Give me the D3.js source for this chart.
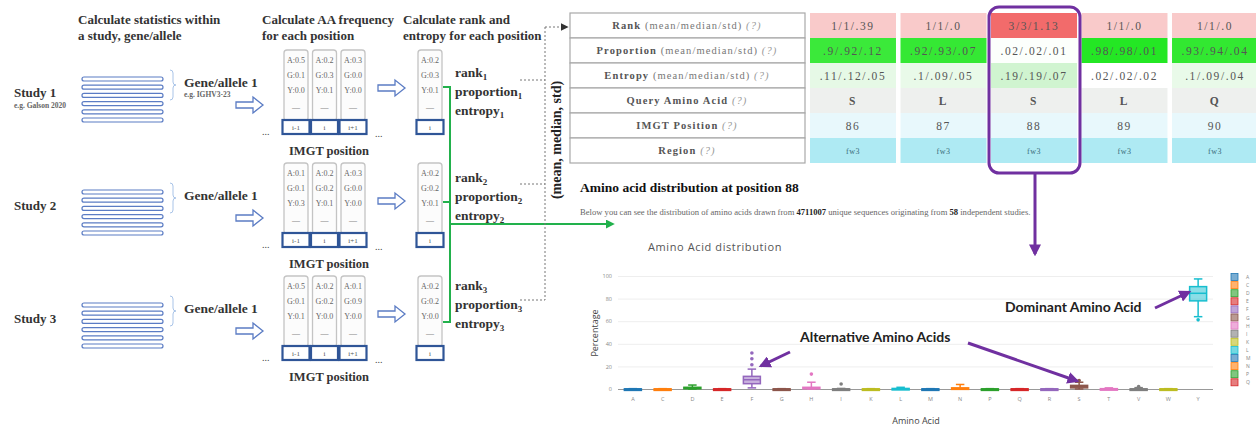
<!DOCTYPE html>
<html>
<head>
<meta charset="utf-8">
<script src="https://cdn.jsdelivr.net/npm/d3@7"></script>
<style>
  body { margin: 0; background: #fff; }
  svg { display: block; }
</style>
</head>
<body>
<svg></svg>
<script>
// ---------- data ----------
const studies = ["Study 1", "Study 2", "Study 3"];
const studyNotes = ["e.g. Galson 2020", "", ""];
const geneLabels = ["Gene/allele 1", "Gene/allele 1", "Gene/allele 1"];
const geneNotes = ["e.g. IGHV3-23", "", ""];
const positions = ["i-1", "i", "i+1"];
const residues = ["A", "G", "Y"];
// frequency[position][residue] for each study
const freqStudy1 = [[0.5, 0.1, 0.0], [0.2, 0.3, 0.1], [0.3, 0.0, 0.0]];
const freqStudy2 = [[0.1, 0.1, 0.3], [0.2, 0.2, 0.1], [0.3, 0.0, 0.0]];
const freqStudy3 = [[0.5, 0.1, 0.1], [0.2, 0.2, 0.0], [0.1, 0.9, 0.0]];
const studyFreqs = [freqStudy1, freqStudy2, freqStudy3];

// summary table
const rowNames = ["Rank", "Proportion", "Entropy", "Query Amino Acid", "IMGT Position", "Region"];
const rowNotes = ["(mean/median/std)", "(mean/median/std)", "(mean/median/std)", "", "", ""];
const imgtPositions = [86, 87, 88, 89, 90];
const rankStats = ["1/1/.39", "1/1/.0", "3/3/1.13", "1/1/.0", "1/1/.0"];
const rankMeans = [1, 1, 3, 1, 1];
const proportionStats = [".9/.92/.12", ".92/.93/.07", ".02/.02/.01", ".98/.98/.01", ".93/.94/.04"];
const proportionMeans = [0.9, 0.92, 0.02, 0.98, 0.93];
const entropyStats = [".11/.12/.05", ".1/.09/.05", ".19/.19/.07", ".02/.02/.02", ".1/.09/.04"];
const entropyMeans = [0.11, 0.1, 0.19, 0.02, 0.1];
const queryAA = ["S", "L", "S", "L", "Q"];
const regions = ["fw3", "fw3", "fw3", "fw3", "fw3"];
const selectedPosition = 88;
const nSequences = "4711007";
const nStudies = "58";

// box plot (percentage)
const aminoAcids = ["A", "C", "D", "E", "F", "G", "H", "I", "K", "L", "M", "N", "P", "Q", "R", "S", "T", "V", "W", "Y"];
const boxQ1     = [0, 0, 0.3, 0, 4.7, 0, 0.3, 0, 0, 0, 0, 0, 0, 0, 0, 1, 0, 0, 0, 78];
const boxMedian = [0, 0, 0.8, 0, 8.2, 0, 0.8, 0, 0, 0.2, 0, 0.4, 0, 0, 0, 2, 0, 0, 0, 84.7];
const boxQ3     = [0.1, 0.1, 1.5, 0.1, 11.2, 0.1, 1.5, 0.1, 0.1, 0.5, 0.1, 1, 0.1, 0.1, 0.1, 3.2, 0.3, 0.1, 0.1, 90.6];
const boxLow    = [0, 0, 0, 0, 1, 0, 0, 0, 0, 0, 0, 0, 0, 0, 0, 0, 0, 0, 0, 64];
const boxHigh   = [0.3, 0.3, 3.5, 0.3, 17.6, 0.3, 6, 0.5, 0.3, 1.5, 0.3, 4, 0.3, 0.3, 0.3, 6, 1, 1.2, 0.3, 97.4];
const boxOutliers = [[], [], [], [], [21.5, 26.8, 31.8], [], [13.2], [4.4], [], [], [], [], [], [], [], [7.5], [], [2.2], [], [61.2]];
const yTicks = [0, 20, 40, 60, 80, 100];
const legendCount = 14;

// ---------- setup ----------
const width = 1256, height = 427;
const svg = d3.select("svg").attr("width", width).attr("height", height);
const serif = "'Liberation Serif', 'Times New Roman', serif";
const sans = "'Open Sans', 'Liberation Sans', sans-serif";
const blue = "#5b7cc4";
const darkBlue = "#2f5597";
const purple = "#7030a0";

const defs = svg.append("defs");
function marker(id, color, size) {
  defs.append("marker").attr("id", id)
    .attr("viewBox", "0 0 10 10").attr("refX", 8).attr("refY", 5)
    .attr("markerWidth", size).attr("markerHeight", size)
    .attr("markerUnits", "userSpaceOnUse").attr("orient", "auto")
    .append("path").attr("d", "M0,0 L10,5 L0,10 z").attr("fill", color);
}
marker("arrGreen", "#22b14c", 9);
marker("arrGray", "#333", 8);
marker("arrPurple", purple, 12);

function hollowArrow(x, y) {
  svg.append("path")
    .attr("d", `M${x},${y - 3} h17 v-5 l10,8 l-10,8 v-5 h-17 z`)
    .attr("fill", "#fff").attr("stroke", blue).attr("stroke-width", 1.3);
}

// ---------- headings ----------
const heads = [
  [78, ["Calculate statistics within", "a study, gene/allele"]],
  [262, ["Calculate AA frequency", "for each position"]],
  [403, ["Calculate rank and", "entropy for each position"]]
];
heads.forEach(([x, lines]) => {
  lines.forEach((l, i) => {
    svg.append("text").attr("x", x).attr("y", 24 + i * 16)
      .attr("font-family", serif).attr("font-weight", "bold").attr("font-size", 13)
      .attr("fill", "#333").text(l);
  });
});

// ---------- study blocks ----------
const colX = d3.scalePoint().domain(positions).range([296, 353]);
const fmt = d3.format(".1f");
const labelCenters = [72, 177, 285];

studies.forEach((s, k) => {
  const top = 50 + k * 113;
  svg.append("text").attr("x", 14).attr("y", top + 47)
    .attr("font-family", serif).attr("font-weight", "bold").attr("font-size", 13)
    .attr("fill", "#333").text(s);
  if (studyNotes[k]) {
    svg.append("text").attr("x", 14).attr("y", top + 58)
      .attr("font-family", serif).attr("font-weight", "bold").attr("font-size", 7.5)
      .attr("fill", "#666").text(studyNotes[k]);
  }
  d3.range(6).forEach(i => {
    svg.append("rect").attr("x", 82).attr("y", top + 27 + i * 8.2)
      .attr("width", 81).attr("height", 4).attr("rx", 2)
      .attr("fill", "#fff").attr("stroke", blue).attr("stroke-width", 1.2);
  });
  const by = top + 20;
  svg.append("path")
    .attr("d", `M170,${by} q3,0 3,3 v9 q0,3 3,3 q-3,0 -3,3 v9 q0,3 -3,3`)
    .attr("fill", "none").attr("stroke", "#a9c4e8").attr("stroke-width", 1);
  svg.append("text").attr("x", 184).attr("y", top + 37)
    .attr("font-family", serif).attr("font-weight", "bold").attr("font-size", 13.5)
    .attr("fill", "#333").text(geneLabels[k]);
  if (geneNotes[k]) {
    svg.append("text").attr("x", 184).attr("y", top + 47)
      .attr("font-family", serif).attr("font-weight", "bold").attr("font-size", 7.5)
      .attr("fill", "#666").text(geneNotes[k]);
  }
  hollowArrow(236, top + 55);
  svg.append("text").attr("x", 262).attr("y", top + 85)
    .attr("font-family", serif).attr("font-size", 10).attr("fill", "#444").text("...");
  svg.append("text").attr("x", 375).attr("y", top + 87)
    .attr("font-family", serif).attr("font-size", 10).attr("fill", "#444").text("...");

  // AA frequency columns
  const freqs = studyFreqs[k];
  positions.forEach((p, j) => {
    drawColumn(colX(p), top, freqs[j], p);
  });
  svg.append("text").attr("x", 329).attr("y", top + 105).attr("text-anchor", "middle")
    .attr("font-family", serif).attr("font-weight", "bold").attr("font-size", 12.5)
    .attr("fill", "#333").text("IMGT position");

  hollowArrow(378, top + 38);
  drawColumn(430, top, freqs[positions.indexOf("i")], "i");

  // rank / proportion / entropy labels
  const lc = labelCenters[k];
  ["rank", "proportion", "entropy"].forEach((w, i) => {
    const t = svg.append("text").attr("x", 455).attr("y", lc + 5 + i * 19)
      .attr("font-family", serif).attr("font-weight", "bold").attr("font-size", 13.5)
      .attr("fill", "#333").text(w);
    t.append("tspan").attr("font-size", 9).attr("dy", 3).text(k + 1);
  });
  // dashed connector
  const dy = [80, 184, 300][k];
  svg.append("line").attr("x1", 520).attr("x2", 545).attr("y1", dy).attr("y2", dy)
    .attr("stroke", "#777").attr("stroke-width", 1).attr("stroke-dasharray", "2,2");
  // green tick
  const gy = [87, 202, 322][k];
  svg.append("line").attr("x1", 443).attr("x2", 450).attr("y1", gy).attr("y2", gy)
    .attr("stroke", "#22b14c").attr("stroke-width", 2);
});

function drawColumn(cx, top, vals, label) {
  svg.append("rect").attr("x", cx - 12).attr("y", top).attr("width", 24).attr("height", 71)
    .attr("rx", 3).attr("fill", "#fcfcfc").attr("stroke", "#c4c4c4").attr("stroke-width", 1.3);
  residues.forEach((r, i) => {
    svg.append("text").attr("x", cx).attr("y", top + 13 + i * 15).attr("text-anchor", "middle")
      .attr("font-family", serif).attr("font-size", 8).attr("fill", "#666")
      .text(`${r}:${fmt(vals[i])}`);
  });
  svg.append("text").attr("x", cx).attr("y", top + 60).attr("text-anchor", "middle")
    .attr("font-family", serif).attr("font-size", 8).attr("fill", "#888").text("\u2014");
  svg.append("rect").attr("x", cx - 13.5).attr("y", top + 70).attr("width", 27).attr("height", 14)
    .attr("fill", "#fff").attr("stroke", darkBlue).attr("stroke-width", 2.2);
  svg.append("text").attr("x", cx).attr("y", top + 80).attr("text-anchor", "middle")
    .attr("font-family", serif).attr("font-size", 7).attr("fill", "#555").text(label);
}

// green bracket + arrow to distribution
svg.append("line").attr("x1", 450).attr("x2", 450).attr("y1", 86).attr("y2", 323)
  .attr("stroke", "#22b14c").attr("stroke-width", 2);
svg.append("line").attr("x1", 450).attr("x2", 613).attr("y1", 224).attr("y2", 224)
  .attr("stroke", "#22b14c").attr("stroke-width", 2).attr("marker-end", "url(#arrGreen)");

// dashed vertical + arrow into table
svg.append("line").attr("x1", 545).attr("x2", 545).attr("y1", 27).attr("y2", 300)
  .attr("stroke", "#777").attr("stroke-width", 1).attr("stroke-dasharray", "2,2");
svg.append("line").attr("x1", 545).attr("x2", 567).attr("y1", 27).attr("y2", 27)
  .attr("stroke", "#777").attr("stroke-width", 1).attr("stroke-dasharray", "2,2")
  .attr("marker-end", "url(#arrGray)");
svg.append("text")
  .attr("transform", "translate(561,140) rotate(-90)").attr("text-anchor", "middle")
  .attr("font-family", serif).attr("font-weight", "bold").attr("font-size", 14)
  .attr("fill", "#222").text("(mean, median, std)");

// ---------- summary table ----------
const rowY = d3.scaleBand().domain(rowNames).range([13, 163]);
const cellX = d3.scaleBand().domain(imgtPositions).range([810, 1258]).paddingInner(0.05);
const rankColor = d3.scaleLinear().domain([1, 3]).range(["#f9caca", "#f26b6b"]);
const propColor = d3.scaleLinear().domain([0, 0.5, 1]).range(["#ffffff", "#aef5a8", "#1ee61e"]).clamp(true);
const entColor = d3.scaleLinear().domain([0.02, 0.2]).range(["#ffffff", "#cdf3cd"]).clamp(true);

rowNames.forEach((r, i) => {
  const y = rowY(r), h = rowY.bandwidth();
  svg.append("rect").attr("x", 570).attr("y", y).attr("width", 235).attr("height", h)
    .attr("fill", "#fff").attr("stroke", "#a8a8a8").attr("stroke-width", 1.2);
  const t = svg.append("text").attr("x", 687).attr("y", y + h / 2 + 3.5).attr("text-anchor", "middle")
    .attr("font-family", serif).attr("font-size", 10.5).attr("letter-spacing", 1.1).attr("fill", "#444");
  t.append("tspan").attr("font-weight", "bold").attr("fill", "#555").text(r);
  if (rowNotes[i]) t.append("tspan").attr("fill", "#777").text(" " + rowNotes[i]);
  t.append("tspan").attr("fill", "#999").attr("font-style", "italic").text(" (?)");
});

const rowValues = [rankStats, proportionStats, entropyStats, queryAA, imgtPositions, regions];
const rowFill = [
  i => rankColor(rankMeans[i]),
  i => propColor(proportionMeans[i]),
  i => entColor(entropyMeans[i]),
  () => "#eef0ee",
  () => "#e8f8fc",
  () => "#aeeaf3"
];
imgtPositions.forEach((p, j) => {
  rowNames.forEach((r, i) => {
    const y = rowY(r), h = rowY.bandwidth();
    svg.append("rect").attr("x", cellX(p)).attr("y", y).attr("width", cellX.bandwidth()).attr("height", h)
      .attr("fill", rowFill[i](j));
    const isRegion = r === "Region";
    svg.append("text").attr("x", cellX(p) + cellX.bandwidth() / 2).attr("y", y + h / 2 + (isRegion ? 3 : 4))
      .attr("text-anchor", "middle").attr("font-family", serif)
      .attr("font-size", isRegion ? 8 : 11.5).attr("letter-spacing", isRegion ? 0.5 : 1.6)
      .attr("font-weight", i === 3 ? "bold" : "normal")
      .attr("fill", isRegion ? "#3a6a7a" : "#555").text(rowValues[i][j]);
  });
});

// selected column highlight
const selX = cellX(selectedPosition);
svg.append("rect").attr("x", selX - 2).attr("y", 7).attr("width", cellX.bandwidth() + 5).attr("height", 166)
  .attr("rx", 10).attr("fill", "none").attr("stroke", purple).attr("stroke-width", 3);
svg.append("line").attr("x1", selX + cellX.bandwidth() / 2 + 1).attr("x2", selX + cellX.bandwidth() / 2 + 1)
  .attr("y1", 173).attr("y2", 254)
  .attr("stroke", purple).attr("stroke-width", 3).attr("marker-end", "url(#arrPurple)");

// ---------- distribution heading ----------
svg.append("text").attr("x", 580).attr("y", 192)
  .attr("font-family", serif).attr("font-weight", "bold").attr("font-size", 13.5)
  .attr("fill", "#111").text(`Amino acid distribution at position ${selectedPosition}`);
const sub = svg.append("text").attr("x", 580).attr("y", 215)
  .attr("font-family", serif).attr("font-size", 8.6).attr("fill", "#666");
sub.append("tspan").text("Below you can see the distribution of amino acids drawn from ");
sub.append("tspan").attr("font-weight", "bold").attr("fill", "#222").text(nSequences);
sub.append("tspan").text(" unique sequences originating from ");
sub.append("tspan").attr("font-weight", "bold").attr("fill", "#222").text(nStudies);
sub.append("tspan").text(" independent studies.");

// ---------- box plot ----------
const x = d3.scaleBand().domain(aminoAcids).range([618, 1213]);
const y = d3.scaleLinear().domain([0, 100]).range([389, 276]);
const palette = d3.schemeCategory10;
const aaColor = d3.scaleOrdinal().domain(aminoAcids).range(aminoAcids.map((a, i) => palette[i % 10]));

svg.append("text").attr("x", 648).attr("y", 251)
  .attr("font-family", sans).attr("font-size", 11).attr("letter-spacing", 0.6)
  .attr("fill", "#555").text("Amino Acid distribution");

const gridG = svg.append("g").attr("transform", "translate(618,0)")
  .call(d3.axisLeft(y).tickValues(yTicks).tickSize(-595).tickPadding(6));
gridG.select(".domain").remove();
gridG.selectAll(".tick line").attr("stroke", d => d === 0 ? "#999" : "#eee").attr("stroke-width", d => d === 0 ? 1.2 : 1);
gridG.selectAll(".tick text").attr("font-family", sans).attr("font-size", 5.5).attr("fill", "#888");

const xG = svg.append("g").attr("transform", "translate(0,389)")
  .call(d3.axisBottom(x).tickSize(0).tickPadding(8));
xG.select(".domain").remove();
xG.selectAll(".tick text").attr("font-family", sans).attr("font-size", 5.5).attr("fill", "#888");

svg.append("text").attr("transform", "translate(598,333) rotate(-90)").attr("text-anchor", "middle")
  .attr("font-family", sans).attr("font-size", 9).attr("fill", "#444").text("Percentage");
svg.append("text").attr("x", 916).attr("y", 424).attr("text-anchor", "middle")
  .attr("font-family", sans).attr("font-size", 9).attr("fill", "#444").text("Amino Acid");

const bw = 17;
aminoAcids.forEach((a, i) => {
  const cx = x(a) + x.bandwidth() / 2;
  const c = aaColor(a);
  const g = svg.append("g");
  g.append("line").attr("x1", cx).attr("x2", cx).attr("y1", y(boxLow[i])).attr("y2", y(boxQ1[i]))
    .attr("stroke", c).attr("stroke-width", 1.5);
  g.append("line").attr("x1", cx).attr("x2", cx).attr("y1", y(boxQ3[i])).attr("y2", y(boxHigh[i]))
    .attr("stroke", c).attr("stroke-width", 1.5);
  [boxLow[i], boxHigh[i]].forEach(v => {
    g.append("line").attr("x1", cx - bw / 4).attr("x2", cx + bw / 4).attr("y1", y(v)).attr("y2", y(v))
      .attr("stroke", c).attr("stroke-width", 1.5);
  });
  g.append("rect").attr("x", cx - bw / 2).attr("y", y(boxQ3[i]))
    .attr("width", bw).attr("height", Math.max(1.5, y(boxQ1[i]) - y(boxQ3[i])))
    .attr("fill", c).attr("fill-opacity", 0.5).attr("stroke", c).attr("stroke-width", 1.5);
  g.append("line").attr("x1", cx - bw / 2).attr("x2", cx + bw / 2)
    .attr("y1", y(boxMedian[i])).attr("y2", y(boxMedian[i]))
    .attr("stroke", c).attr("stroke-width", 1.5);
  boxOutliers[i].forEach(v => {
    g.append("circle").attr("cx", cx).attr("cy", y(v)).attr("r", 1.8).attr("fill", c);
  });
});

// legend
const legend = svg.append("g");
aminoAcids.slice(0, legendCount).forEach((a, i) => {
  const ly = 277 + i * 8.1;
  legend.append("rect").attr("x", 1231).attr("y", ly - 3.5).attr("width", 7).attr("height", 7)
    .attr("fill", aaColor(a)).attr("fill-opacity", 0.6).attr("stroke", aaColor(a)).attr("stroke-width", 0.8);
  legend.append("text").attr("x", 1246).attr("y", ly + 2).attr("font-family", sans)
    .attr("font-size", 5).attr("fill", "#888").text(a);
});

// annotations
const annoFont = "Lato, 'Open Sans', sans-serif";
svg.append("text").attr("x", 800).attr("y", 342)
  .attr("font-family", annoFont).attr("font-weight", "bold").attr("font-size", 14)
  .attr("fill", "#222").text("Alternative Amino Acids");
svg.append("text").attr("x", 1005).attr("y", 312)
  .attr("font-family", annoFont).attr("font-weight", "bold").attr("font-size", 14)
  .attr("fill", "#222").text("Dominant Amino Acid");
const annoArrows = [
  [790, 352, x("F") + x.bandwidth() / 2 + 9, 366],
  [968, 343, x("S") + x.bandwidth() / 2 - 2, 381],
  [1155, 308, x("Y") + x.bandwidth() / 2 - 9, 292]
];
annoArrows.forEach(([x1, y1, x2, y2]) => {
  svg.append("line").attr("x1", x1).attr("y1", y1).attr("x2", x2).attr("y2", y2)
    .attr("stroke", purple).attr("stroke-width", 3).attr("marker-end", "url(#arrPurple)");
});
</script>
</body>
</html>
